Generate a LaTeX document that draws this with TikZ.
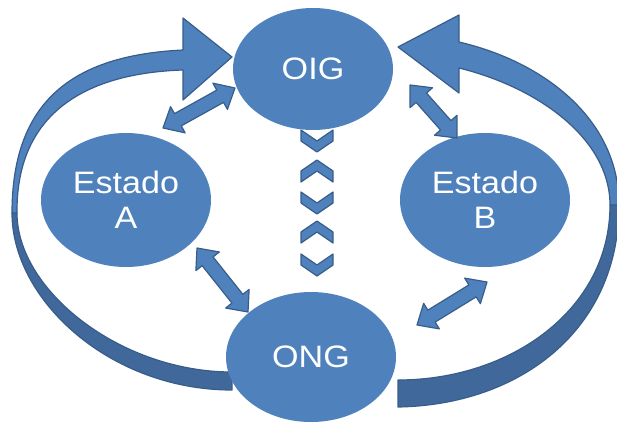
\documentclass[tikz,border=0pt]{standalone}
\usepackage{fontspec}
\setmainfont{Liberation Sans}[FakeStretch=1.1]
\usepackage{tikz}
\usetikzlibrary{calc}
\usetikzlibrary{shapes.geometric}

\definecolor{boxblue}{HTML}{4F81BD}
\definecolor{edgeblue}{HTML}{385D8A}
\definecolor{shadeblue}{HTML}{40689A}

% block arrow with a head at both ends
\newcommand\dblarrow[2]{%
  \draw[band] (#1)
    -- ($(#1)!17pt!(#2)!15pt!90:(#2)$)
    -- ($(#1)!17pt!(#2)!7pt!90:(#2)$)
    -- ($(#2)!17pt!(#1)!7pt!-90:(#1)$)
    -- ($(#2)!17pt!(#1)!15pt!-90:(#1)$)
    -- (#2)
    -- ($(#2)!17pt!(#1)!15pt!90:(#1)$)
    -- ($(#2)!17pt!(#1)!7pt!90:(#1)$)
    -- ($(#1)!17pt!(#2)!7pt!-90:(#2)$)
    -- ($(#1)!17pt!(#2)!15pt!-90:(#2)$)
    -- cycle;}

\begin{document}
\begin{tikzpicture}[x=1pt,y=1pt,
  blob/.style={ellipse,fill=boxblue,inner sep=0pt,text=white,align=center,
    font=\fontsize{31}{35}\selectfont},
  band/.style={fill=boxblue,draw=edgeblue,line width=1.2pt,line join=round},
  darkband/.style={band,fill=shadeblue}]
\useasboundingbox (0,0) rectangle (617,-423);

% Left loop, ONG back to OIG
\draw[darkband] (12,-213) .. controls (12,-300) and (110,-390) .. (232,-390)
  -- (232,-372) .. controls (120,-372) and (17,-290) .. (17,-213) -- cycle;
\draw[band] (232,-57) -- (183,-18) -- (183,-50)
  .. controls (80,-55) and (12,-95) .. (12,-213) -- (17,-213)
  .. controls (16,-110) and (90,-73) .. (183,-70) -- (183,-100) -- cycle;

% Right loop, ONG back to OIG
\draw[darkband] (619,-205) .. controls (619,-330) and (520,-405) .. (398,-407)
  -- (398,-380) .. controls (510,-380) and (610,-310) .. (610,-205) -- cycle;
\draw[band] (398,-47) -- (459,-15) -- (459,-42)
  .. controls (545,-62) and (619,-120) .. (619,-205) -- (610,-205)
  .. controls (610,-140) and (540,-88) .. (459,-68) -- (459,-93) -- cycle;

% Organisations and states
\node[blob,minimum width=160pt,minimum height=122pt] (oig) at (313,-69) {OIG};
\node[blob,minimum width=170pt,minimum height=134pt] (estadoA) at (126,-200) {Estado\\A};
\node[blob,minimum width=170pt,minimum height=134pt] (estadoB) at (485,-200) {Estado\\B};
\node[blob,minimum width=170pt,minimum height=130pt] (ong) at (311,-357) {ONG};

% Two-way links
\coordinate (a1) at (163,-128);
\coordinate (a2) at (235,-88);
\coordinate (b1) at (410,-85);
\coordinate (b2) at (457,-138);
\coordinate (c1) at (197,-248);
\coordinate (c2) at (248,-312);
\coordinate (d1) at (487,-282);
\coordinate (d2) at (417,-325);
\dblarrow{a1}{a2}
\dblarrow{b1}{b2}
\dblarrow{c1}{c2}
\dblarrow{d1}{d2}

% Chevrons between OIG and ONG
\foreach \cy/\d in {141/1,171/-1,203/1,232/-1,265/1}
  \draw[band,shift={(317,-\cy)},yscale=\d]
    (-16,11) -- (0,0) -- (16,11) -- (16,0) -- (0,-11) -- (-16,0) -- cycle;
\end{tikzpicture}
\end{document}
